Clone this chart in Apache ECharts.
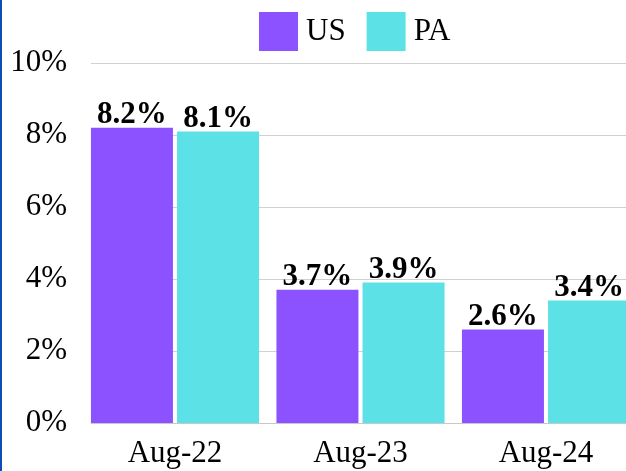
<!DOCTYPE html>
<html>
<head>
<meta charset="utf-8">
<script src="https://cdn.jsdelivr.net/npm/echarts@6/dist/echarts.min.js"></script>
<style>
  html, body { margin: 0; padding: 0; background: #fff; }
  #wrap { position: relative; width: 626px; height: 471px; overflow: hidden; }
  #chart { width: 626px; height: 471px; }
  #edge { position: absolute; left: 0; top: 0; width: 2px; height: 471px; background: #0b4fb4; }
</style>
</head>
<body>
<div id="wrap">
  <div id="chart"></div>
  <div id="edge"></div>
</div>
<script>
  // data
  var categories = ['Aug-22', 'Aug-23', 'Aug-24'];
  var usValues = [8.2, 3.7, 2.6];
  var paValues = [8.1, 3.9, 3.4];
  var yTicks = [0, 2, 4, 6, 8, 10];

  var font = '"Liberation Serif", "Times New Roman", serif';

  var chart = echarts.init(document.getElementById('chart'));

  var barLabel = {
    show: true,
    position: 'top',
    distance: -3,
    fontFamily: font,
    fontSize: 31,
    fontWeight: 'bold',
    color: '#000',
    formatter: function (p) { return p.value.toFixed(1) + '%'; }
  };

  var option = {
    backgroundColor: '#fff',
    animation: false,
    legend: {
      data: ['US', 'PA'],
      left: 259,
      top: 12,
      padding: 0,
      icon: 'rect',
      itemWidth: 39,
      itemHeight: 39,
      itemGap: 21,
      textStyle: {
        fontFamily: font,
        fontSize: 31,
        color: '#000',
        padding: [0, 0, 0, 3]
      }
    },
    grid: [
      // frame: y axis, split lines, base line
      {left: 91, right: 0, top: 63, bottom: 48, outerBoundsMode: 'none'},
      // bars and category labels
      {left: 82.25, width: 556.5, top: 63, bottom: 48, outerBoundsMode: 'none'}
    ],
    xAxis: [{
      gridIndex: 0,
      type: 'category',
      data: categories,
      axisLine: {show: true, lineStyle: {color: '#c8c8c8', width: 1}},
      axisTick: {show: false},
      axisLabel: {show: false}
    }, {
      gridIndex: 1,
      type: 'category',
      data: categories,
      axisLine: {show: false},
      axisTick: {show: false},
      axisLabel: {
        margin: 15,
        fontFamily: font,
        fontSize: 31,
        color: '#000'
      }
    }],
    yAxis: [{
      gridIndex: 0,
      type: 'value',
      min: yTicks[0],
      max: yTicks[yTicks.length - 1],
      interval: yTicks[1] - yTicks[0],
      axisLine: {show: false},
      axisTick: {show: false},
      splitLine: {lineStyle: {color: '#d0d0d0', width: 1}},
      axisLabel: {
        margin: 24,
        fontFamily: font,
        fontSize: 31,
        color: '#000',
        formatter: '{value}%'
      }
    }, {
      gridIndex: 1,
      type: 'value',
      min: yTicks[0],
      max: yTicks[yTicks.length - 1],
      interval: yTicks[1] - yTicks[0],
      show: false
    }],
    series: [{
      name: 'US',
      type: 'bar',
      xAxisIndex: 1,
      yAxisIndex: 1,
      barWidth: 82,
      barGap: '5%',
      itemStyle: {color: '#8c52ff'},
      label: barLabel,
      data: usValues
    }, {
      name: 'PA',
      type: 'bar',
      xAxisIndex: 1,
      yAxisIndex: 1,
      barWidth: 82,
      barGap: '5%',
      itemStyle: {color: '#5ce1e6'},
      label: barLabel,
      data: paValues
    }]
  };

  chart.setOption(option);
</script>
</body>
</html>
